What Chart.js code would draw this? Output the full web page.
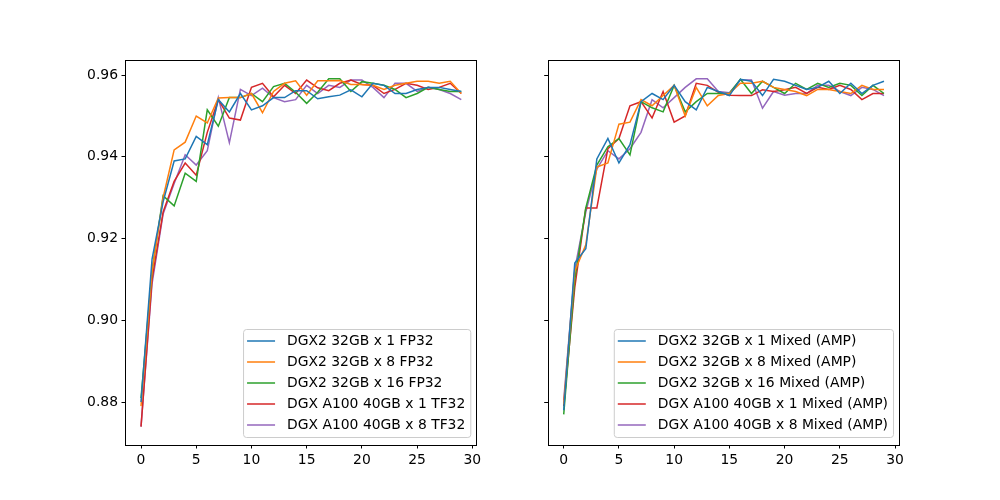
<!DOCTYPE html>
<html>
<head>
<meta charset="utf-8">
<script src="https://cdn.jsdelivr.net/npm/chart.js@4"></script>
<style>
  html, body { margin: 0; padding: 0; background: #fff; }
  #fig { position: relative; width: 1000px; height: 500px; }
  .panel { position: absolute; top: 0; width: 500px; height: 500px; }
</style>
</head>
<body>
<div id="fig">
  <div class="panel" style="left:0"><canvas id="leftChart" width="500" height="500"></canvas></div>
  <div class="panel" style="left:500px"><canvas id="rightChart" width="500" height="500"></canvas></div>
</div>
<script>
const epochs = [0,1,2,3,4,5,6,7,8,9,10,11,12,13,14,15,16,17,18,19,20,21,22,23,24,25,26,27,28,29];
const xTicks = [0, 5, 10, 15, 20, 25, 30];
const yTicks = [0.88, 0.90, 0.92, 0.94, 0.96];

const leftLabels = ['DGX2 32GB x 1 FP32', 'DGX2 32GB x 8 FP32', 'DGX2 32GB x 16 FP32', 'DGX A100 40GB x 1 TF32', 'DGX A100 40GB x 8 TF32'];
const rightLabels = ['DGX2 32GB x 1 Mixed (AMP)', 'DGX2 32GB x 8 Mixed (AMP)', 'DGX2 32GB x 16 Mixed (AMP)', 'DGX A100 40GB x 1 Mixed (AMP)', 'DGX A100 40GB x 8 Mixed (AMP)'];
const colors = ['#1f77b4', '#ff7f0e', '#2ca02c', '#d62728', '#9467bd'];

// left: FP32 / TF32
const dgx2x1Fp32 = [0.880,0.915,0.929,0.939,0.9395,0.945,0.943,0.954,0.951,0.9555,0.9515,0.9525,0.9545,0.9545,0.9562,0.9562,0.9542,0.9547,0.9551,0.9564,0.9547,0.958,0.9575,0.9555,0.9555,0.9565,0.957,0.957,0.9565,0.956];
const dgx2x8Fp32 = [0.879,0.912,0.930,0.9417,0.9436,0.950,0.9483,0.9544,0.9545,0.9545,0.9555,0.9508,0.956,0.958,0.9586,0.9551,0.9586,0.9586,0.9587,0.9577,0.9577,0.9575,0.9565,0.9575,0.958,0.9585,0.9585,0.958,0.9585,0.9555];
const dgx2x16Fp32 = [0.881,0.912,0.9305,0.928,0.936,0.934,0.9515,0.9475,0.9545,0.9545,0.9555,0.9535,0.9572,0.958,0.9558,0.9531,0.9558,0.9591,0.9591,0.956,0.9584,0.958,0.9575,0.9565,0.9545,0.9555,0.957,0.9565,0.956,0.956];
const a100x1Tf32 = [0.874,0.910,0.9265,0.934,0.9385,0.9355,0.946,0.954,0.9495,0.949,0.957,0.958,0.9547,0.9575,0.9555,0.9588,0.9569,0.9562,0.958,0.9588,0.9577,0.9575,0.9555,0.9565,0.958,0.9575,0.9565,0.957,0.958,0.9555];
const a100x8Tf32 = [0.874,0.909,0.926,0.9335,0.9405,0.938,0.9415,0.9545,0.9435,0.9565,0.955,0.9568,0.9545,0.9535,0.954,0.9575,0.9555,0.9575,0.957,0.9588,0.9588,0.957,0.9545,0.958,0.958,0.956,0.957,0.9565,0.9555,0.954];

// right: mixed precision
const dgx2x1Amp = [0.878,0.914,0.9175,0.9395,0.9445,0.9385,0.943,0.9535,0.9555,0.954,0.9575,0.9535,0.9515,0.957,0.956,0.955,0.959,0.9585,0.955,0.959,0.9585,0.9575,0.9565,0.957,0.9585,0.9555,0.958,0.9555,0.9575,0.9585];
const dgx2x8Amp = [0.8795,0.912,0.9185,0.9375,0.9385,0.948,0.9485,0.954,0.9525,0.955,0.9575,0.950,0.957,0.9525,0.955,0.9555,0.958,0.958,0.9585,0.957,0.9565,0.956,0.955,0.9565,0.9565,0.956,0.9555,0.9575,0.9565,0.9565];
const dgx2x16Amp = [0.877,0.910,0.9275,0.938,0.9425,0.9445,0.9405,0.9535,0.952,0.951,0.9575,0.951,0.9535,0.9555,0.9555,0.9555,0.959,0.9555,0.9585,0.957,0.9555,0.958,0.9565,0.958,0.957,0.958,0.9575,0.955,0.9575,0.9555];
const a100x1Amp = [0.879,0.908,0.9275,0.9275,0.942,0.9445,0.9525,0.9535,0.9495,0.956,0.9485,0.950,0.958,0.9575,0.9558,0.9551,0.955,0.955,0.9564,0.956,0.9564,0.957,0.9555,0.957,0.9565,0.9575,0.9565,0.954,0.9555,0.9555];
const a100x8Amp = [0.8805,0.9125,0.9265,0.937,0.9415,0.9395,0.942,0.946,0.954,0.952,0.9545,0.957,0.9591,0.9591,0.956,0.9557,0.9588,0.9588,0.9519,0.956,0.9551,0.9555,0.9555,0.9575,0.9575,0.956,0.955,0.957,0.9565,0.955];

const FONT = { family: '"DejaVu Sans", sans-serif', size: 13.9 };

// frame + matplotlib style legend in the lower right
const framePlugin = {
  id: 'frame',
  afterDraw(chart) {
    const { ctx, chartArea: a } = chart;
    ctx.save();
    ctx.strokeStyle = '#000';
    ctx.lineWidth = 1;
    ctx.strokeRect(Math.round(a.left) + 0.5, Math.round(a.top) + 0.5, Math.round(a.right - a.left) - 1, Math.round(a.bottom - a.top));

    const labels = chart.data.datasets.map(d => d.label);
    ctx.font = `${FONT.size}px ${FONT.family}`;
    const textW = Math.max(...labels.map(l => ctx.measureText(l).width));
    const w = 4 + 28 + 12 + textW + 5;
    const h = 108;
    const x = a.right - 7 - w;
    const y = a.bottom - 8 - h;
    ctx.beginPath();
    ctx.roundRect(x + 0.5, y + 0.5, w, h, 3);
    ctx.fillStyle = 'rgba(255,255,255,0.8)';
    ctx.fill();
    ctx.strokeStyle = '#cccccc';
    ctx.stroke();
    ctx.textBaseline = 'middle';
    ctx.fillStyle = '#000';
    chart.data.datasets.forEach((d, i) => {
      const ry = y + 12 + i * 21;
      ctx.strokeStyle = d.borderColor;
      ctx.lineWidth = 1.5;
      ctx.beginPath();
      ctx.moveTo(x + 4, ry);
      ctx.lineTo(x + 32, ry);
      ctx.stroke();
      ctx.fillText(d.label, x + 44, ry);
    });
    ctx.restore();
  }
};

function makeChart(id, labels, series, axisWidth, padRight, showYLabels) {
  return new Chart(document.getElementById(id), {
    type: 'line',
    data: {
      datasets: series.map((s, i) => ({
        label: labels[i],
        data: epochs.map((e, j) => ({ x: e, y: s[j] })),
        borderColor: colors[i],
        borderWidth: 1.5,
        pointRadius: 0,
        tension: 0,
        fill: false
      }))
    },
    options: {
      responsive: false,
      animation: false,
      devicePixelRatio: 1,
      layout: { padding: { left: 0, right: padRight, top: 60, bottom: 0 } },
      plugins: { legend: { display: false }, tooltip: { enabled: false } },
      scales: {
        x: {
          type: 'linear',
          min: -1.45,
          max: 30.45,
          afterBuildTicks: s => { s.ticks = xTicks.map(v => ({ value: v })); },
          afterFit: s => { s.height = 55; },
          grid: { drawOnChartArea: false, drawTicks: true, tickLength: 3.5, color: '#000' },
          border: { display: false },
          ticks: { color: '#000', font: FONT, padding: 3.5, maxRotation: 0, callback: v => String(v) }
        },
        y: {
          min: 0.8695,
          max: 0.9637,
          afterBuildTicks: s => { s.ticks = yTicks.map(v => ({ value: v })); },
          afterFit: s => { s.width = axisWidth; },
          grid: { drawOnChartArea: false, drawTicks: true, tickLength: 3.5, color: '#000' },
          border: { display: false },
          ticks: { color: '#000', font: FONT, padding: 3.5, callback: v => showYLabels ? v.toFixed(2) : '' }
        }
      }
    },
    plugins: [framePlugin]
  });
}

makeChart('leftChart', leftLabels, [dgx2x1Fp32, dgx2x8Fp32, dgx2x16Fp32, a100x1Tf32, a100x8Tf32], 125, 22.7, true);
makeChart('rightChart', rightLabels, [dgx2x1Amp, dgx2x8Amp, dgx2x16Amp, a100x1Amp, a100x8Amp], 47.7, 100, false);
</script>
</body>
</html>
